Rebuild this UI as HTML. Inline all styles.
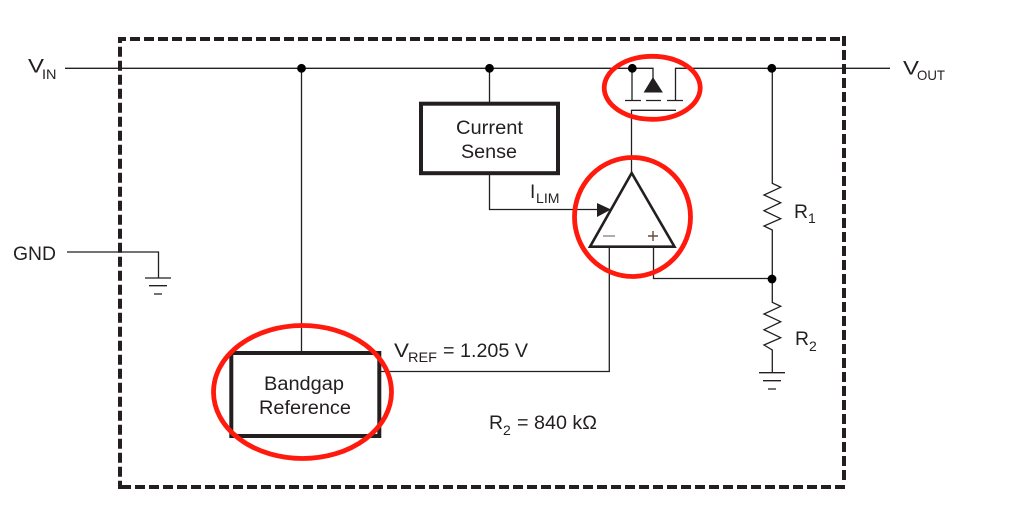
<!DOCTYPE html>
<html><head><meta charset="utf-8"><style>
html,body{margin:0;padding:0;background:#fff}
svg{display:block}
text{font-family:"Liberation Sans",sans-serif;fill:#231f20;font-size:19px}
text.s{font-size:14px}
</style></head><body>
<svg width="1009" height="524" viewBox="0 0 1009 524" xmlns="http://www.w3.org/2000/svg">
<g fill="none" stroke="#231f20" stroke-width="4">
<path d="M120 43V39H126"/>
<g stroke-dasharray="10 4">
<path d="M130 39H842"/>
<path d="M844 36V481"/>
<path d="M121 487H846"/>
<path d="M120 46.7V489"/>
</g>
</g>
<g fill="none" stroke="#231f20" stroke-width="1.3">
<path d="M65 68.3H653V92M675.5 100V68.3H890"/>
<path d="M301.5 68V352M489.5 68V103M632 68V100M625 100.5H641M646 100.5H661M667 100.5H683"/>
<path d="M631.5 172V110.3H676"/>
<path d="M489.5 175V209.5H598"/>
<path d="M381 371.5H609.3V247M653.5 247V278.5H772"/>
<path d="M772.3 68V183.3L780.7 187.3L764 195L780.7 202.7L764 210.7L780.7 218.7L764 226L772.3 230V302.3L780.7 306.3L764 314L780.7 321.7L764 329.7L780.7 337.7L764 345L772.3 350V372.7"/>
<path d="M759 372.7H785M763 380.7H781M768 389H776"/>
<path d="M67 252H158.5V278M145 278H171M149 285.7H167M154 294H162"/>
</g>
<path d="M653 78L662 92H644.5Z" fill="#231f20" stroke="#231f20"/>
<path d="M597 203L611 209.5L597 217Z" fill="#231f20"/>
<path d="M631.7 173L674.5 246.7H590Z" fill="none" stroke="#231f20" stroke-width="2.6"/>
<rect x="421" y="103.7" width="137" height="69.5" fill="none" stroke="#231f20" stroke-width="4"/>
<rect x="231.3" y="353" width="148" height="83" fill="none" stroke="#231f20" stroke-width="4"/>
<g fill="#000">
<circle cx="301.5" cy="68.3" r="4.4"/><circle cx="489.5" cy="68.3" r="4.4"/><circle cx="632.3" cy="68.3" r="4.4"/><circle cx="771.8" cy="68.3" r="4.4"/><circle cx="772" cy="279" r="4.4"/>
</g>
<path d="M603 236H615" stroke="#8a8a8a" stroke-width="1.4"/>
<path d="M648 236H658M653 231V241" stroke="#6b4a3a" stroke-width="1.4"/>
<g fill="none" stroke="#ff1a0d" stroke-width="4.8">
<ellipse cx="652.2" cy="87.8" rx="48" ry="31.5"/>
<ellipse cx="632.5" cy="217" rx="58" ry="59.5"/>
<ellipse cx="302.5" cy="392" rx="89" ry="66.5"/>
</g>
<text x="28" y="72.5" textLength="16" lengthAdjust="spacingAndGlyphs">V</text>
<text class="s" x="42" y="79" textLength="14.5" lengthAdjust="spacingAndGlyphs">IN</text>
<text x="13" y="260" textLength="43" lengthAdjust="spacingAndGlyphs">GND</text>
<text x="903" y="74.5" textLength="16" lengthAdjust="spacingAndGlyphs">V</text>
<text class="s" x="917" y="80" textLength="28" lengthAdjust="spacingAndGlyphs">OUT</text>
<text x="456" y="134" textLength="67" lengthAdjust="spacingAndGlyphs">Current</text>
<text x="461" y="158" textLength="56" lengthAdjust="spacingAndGlyphs">Sense</text>
<text x="530" y="198">I</text>
<text class="s" x="536" y="203" textLength="23.5" lengthAdjust="spacingAndGlyphs">LIM</text>
<text x="264" y="390" textLength="80" lengthAdjust="spacingAndGlyphs">Bandgap</text>
<text x="259" y="414" textLength="92" lengthAdjust="spacingAndGlyphs">Reference</text>
<text x="394" y="357" textLength="15" lengthAdjust="spacingAndGlyphs">V</text>
<text class="s" x="408" y="362" textLength="29" lengthAdjust="spacingAndGlyphs">REF</text>
<text x="443" y="357" textLength="85" lengthAdjust="spacingAndGlyphs">= 1.205 V</text>
<text x="489" y="429" textLength="14" lengthAdjust="spacingAndGlyphs">R</text>
<text class="s" x="503" y="435">2</text>
<text x="517" y="429" textLength="80" lengthAdjust="spacingAndGlyphs">= 840 kΩ</text>
<text x="794" y="218" textLength="14" lengthAdjust="spacingAndGlyphs">R</text>
<text class="s" x="808" y="223">1</text>
<text x="795" y="345" textLength="14" lengthAdjust="spacingAndGlyphs">R</text>
<text class="s" x="809" y="351">2</text>
</svg>
</body></html>
